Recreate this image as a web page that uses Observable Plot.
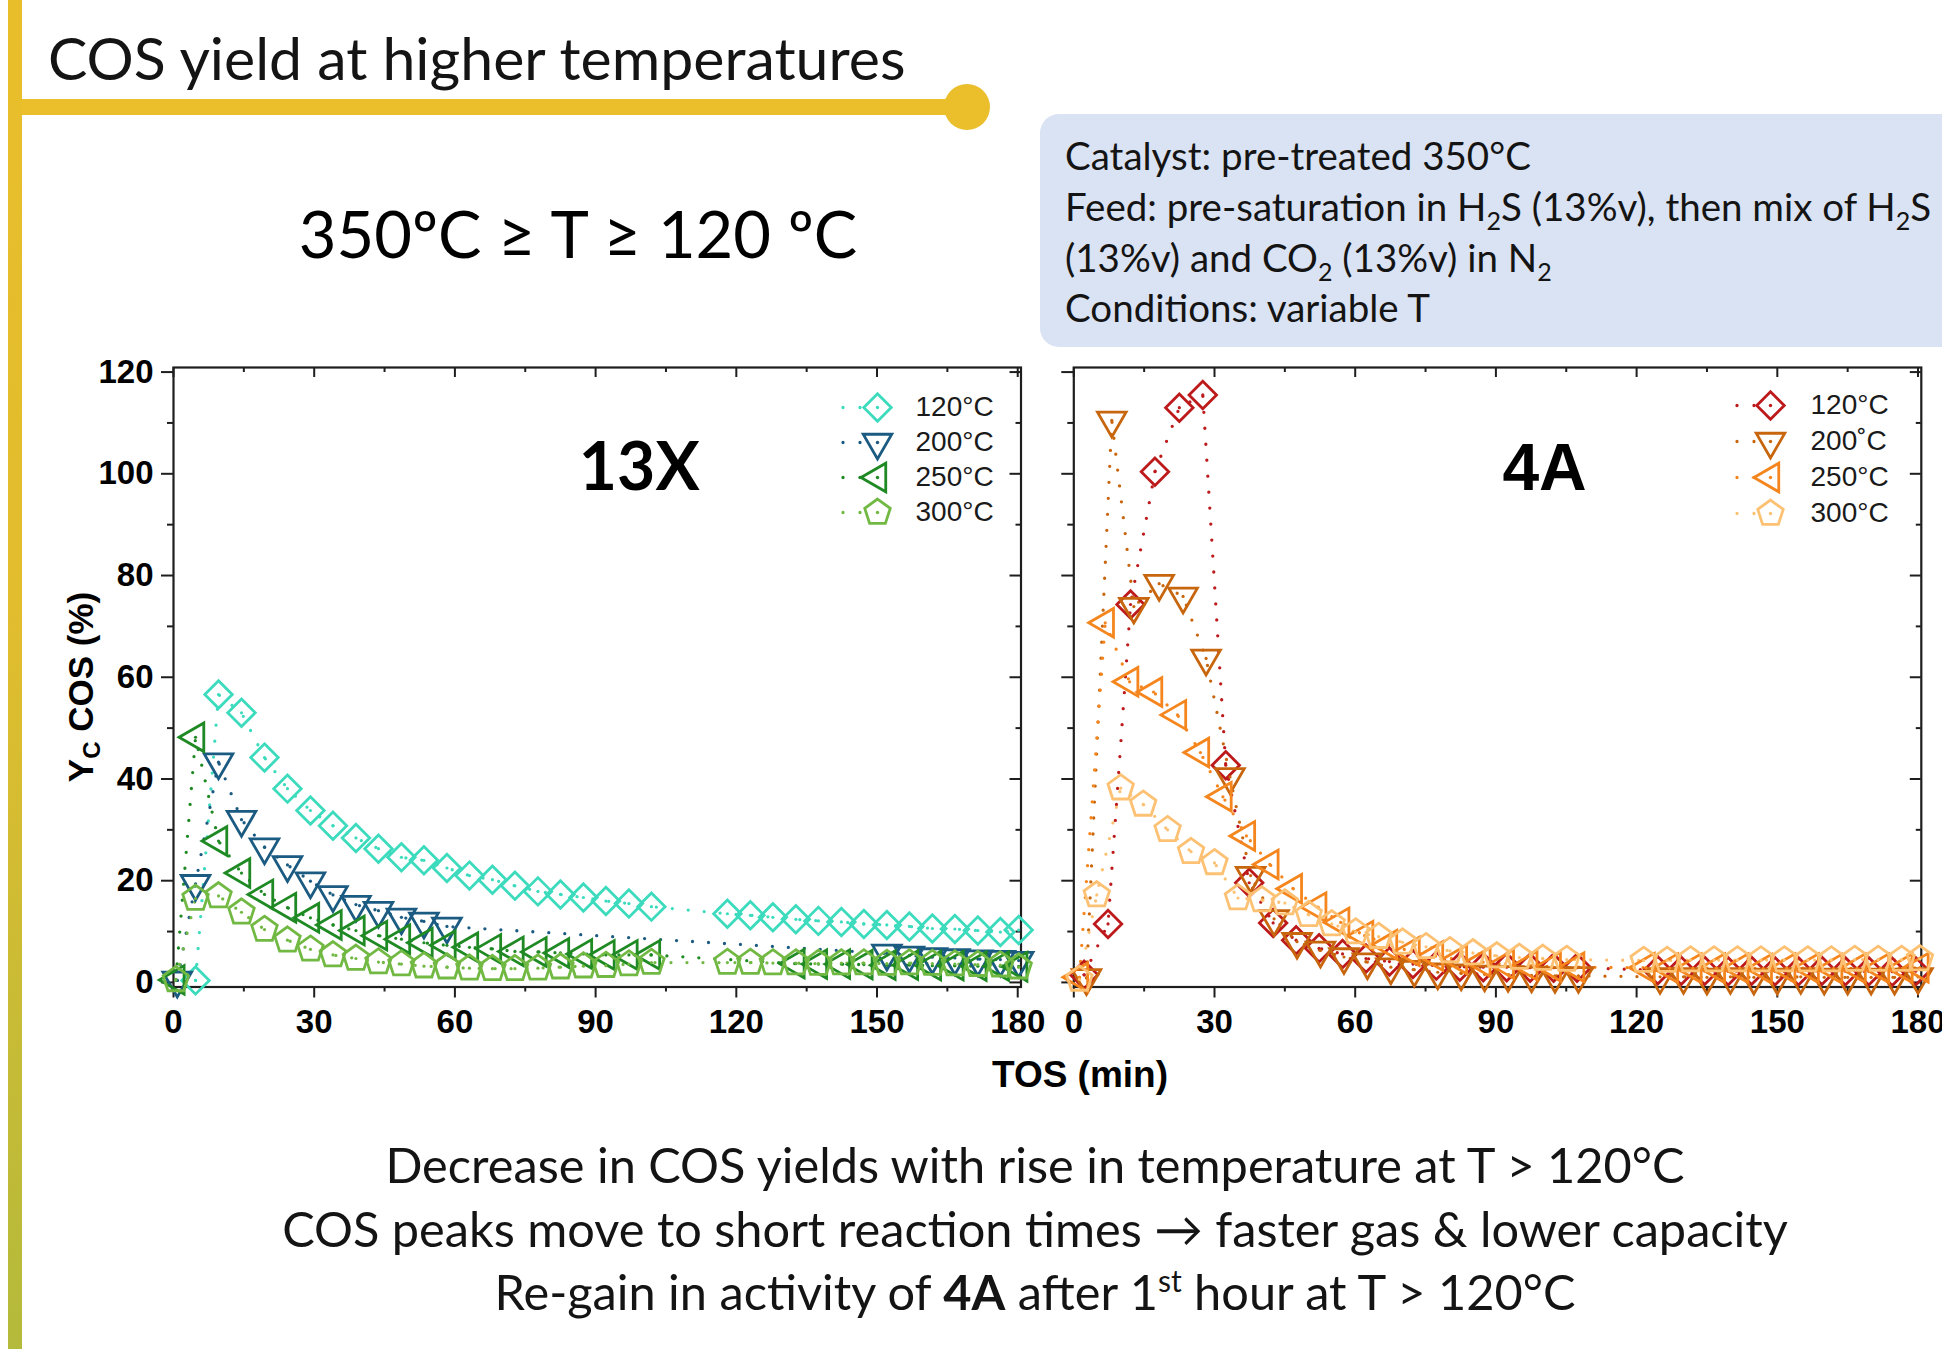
<!DOCTYPE html>
<html>
<head>
<meta charset="utf-8">
<script src="https://cdn.jsdelivr.net/npm/d3@7"></script>
<script src="https://cdn.jsdelivr.net/npm/@observablehq/plot@0.6"></script>
<style>
  html, body { margin: 0; padding: 0; background: #fff; }
  body { width: 1942px; height: 1349px; position: relative; overflow: hidden; font-family: Lato, "Open Sans", sans-serif; }
  .abs { position: absolute; }
</style>
</head>
<body>
<script>
// ---------------- DATA ----------------
const X_MAJOR = [0, 30, 60, 90, 120, 150, 180];
const X_MINOR = [15, 45, 75, 105, 135, 165];
const Y_MAJOR = [0, 20, 40, 60, 80, 100, 120];
const Y_MINOR = [10, 30, 50, 70, 90, 110];

const PANELS = ["13X", "4A"];
const LEG_13X = ["120°C", "200°C", "250°C", "300°C"];
const LEG_4A = ["120°C", "200˚C", "250°C", "300°C"];
const COL_13X = ["#3ddbbd", "#1b5b82", "#1f8a24", "#72b944"];
const COL_4A = ["#bd1a1c", "#c8660e", "#f5861e", "#fdc174"];

// 13X series (TOS in min, Yc COS in %)
const t13_120 = [4.7, 9.6, 14.5, 19.4, 24.3, 29.2, 34.0, 38.9, 43.7, 48.6, 53.4, 58.3, 63.1, 68.0, 72.8, 77.7, 82.5, 87.4, 92.2, 97.1, 101.9, 118.1, 123.0, 127.8, 132.7, 137.5, 142.4, 147.2, 152.1, 156.9, 161.8, 166.6, 171.5, 176.3, 180.2];
const y13_120 = [0.4, 56.6, 53.0, 44.2, 38.1, 33.8, 30.8, 28.4, 26.3, 24.6, 24.0, 22.5, 21.0, 20.2, 19.0, 17.9, 17.3, 16.7, 16.0, 15.5, 14.9, 13.5, 13.2, 12.8, 12.4, 12.1, 11.9, 11.5, 11.3, 11.0, 10.6, 10.5, 10.2, 9.9, 10.3];
const t13_200 = [0.8, 4.7, 9.6, 14.5, 19.4, 24.3, 29.2, 34.0, 38.9, 43.7, 48.6, 53.4, 58.3, 152.1, 156.9, 161.8, 166.6, 171.5, 176.3, 180.2];
const y13_200 = [0.4, 19.4, 43.3, 32.0, 26.6, 23.1, 19.9, 17.2, 15.3, 14.1, 12.8, 12.0, 11.0, 5.7, 5.3, 5.0, 4.8, 4.6, 4.5, 4.3];
const t13_250 = [0.5, 4.7, 9.6, 14.5, 19.4, 24.3, 29.2, 34.0, 38.9, 43.7, 48.6, 53.4, 58.3, 63.1, 68.0, 72.8, 77.7, 82.5, 87.4, 92.2, 97.1, 101.9, 132.7, 137.5, 142.4, 147.2, 152.1, 156.9, 161.8, 166.6, 171.5, 176.3, 180.2];
const y13_250 = [0.5, 48.2, 27.8, 21.5, 17.3, 14.7, 12.7, 11.3, 10.2, 9.2, 8.5, 7.8, 7.3, 6.9, 6.6, 6.1, 6.0, 5.8, 5.6, 5.4, 5.4, 5.4, 3.7, 3.6, 3.6, 3.5, 3.4, 3.4, 3.3, 3.3, 3.2, 3.2, 3.1];
const t13_300 = [0.5, 4.7, 9.6, 14.5, 19.4, 24.3, 29.2, 34.0, 38.9, 43.7, 48.6, 53.4, 58.3, 63.1, 68.0, 72.8, 77.7, 82.5, 87.4, 92.2, 97.1, 101.9, 118.1, 123.0, 127.8, 132.7, 137.5, 142.4, 147.2, 152.1, 156.9, 161.8, 166.6, 171.5, 176.3, 180.2];
const y13_300 = [0.5, 16.5, 17.0, 13.8, 10.4, 8.3, 6.5, 5.4, 4.7, 4.0, 3.6, 3.2, 3.0, 2.8, 2.7, 2.7, 2.8, 3.0, 3.2, 3.3, 3.6, 3.9, 3.9, 3.9, 3.8, 3.8, 3.7, 3.8, 3.8, 3.7, 3.8, 3.7, 3.6, 3.5, 3.4, 3.0];

// 4A series
const t4_120 = [2.2, 7.3, 12.1, 17.3, 22.5, 27.5, 32.4, 37.4, 42.5, 47.4, 52.3, 57.3, 62.3, 67.3, 72.3, 77.3, 82.3, 87.3, 92.3, 97.3, 102.3, 107.3, 124.5, 129.5, 134.5, 139.5, 144.5, 149.5, 154.5, 159.5, 164.5, 169.5, 174.5, 179.5];
const y4_120 = [1.5, 11.5, 74.3, 100.4, 113.0, 115.5, 42.7, 19.6, 11.7, 8.3, 6.7, 5.6, 4.7, 4.1, 3.6, 3.3, 3.1, 3.0, 3.0, 2.9, 2.9, 2.9, 2.4, 2.3, 2.3, 2.2, 2.3, 2.2, 2.2, 2.3, 2.2, 2.2, 2.1, 2.2];
const t4_200 = [2.7, 8.1, 12.8, 18.2, 23.3, 28.2, 33.3, 37.7, 42.7, 47.6, 52.6, 57.6, 62.6, 67.6, 72.6, 77.6, 82.6, 87.6, 92.6, 97.6, 102.6, 107.6, 125.0, 130.0, 135.0, 140.0, 145.0, 150.0, 155.0, 160.0, 165.0, 170.0, 175.0, 180.0];
const y4_200 = [0.9, 110.5, 73.9, 78.4, 75.9, 63.7, 40.4, 21.0, 12.5, 8.0, 6.3, 5.0, 4.0, 3.0, 2.5, 2.0, 1.8, 1.6, 1.5, 1.4, 1.3, 1.3, 1.1, 1.1, 1.0, 1.1, 1.0, 1.0, 1.1, 1.0, 1.0, 1.0, 1.0, 1.1];
const t4_250 = [1.2, 6.7, 11.9, 17.0, 22.1, 27.0, 31.8, 36.8, 41.8, 46.8, 52.0, 56.9, 62.0, 67.1, 71.9, 76.9, 82.0, 87.0, 92.0, 97.0, 102.0, 107.0, 122.0, 127.0, 132.0, 137.0, 142.0, 147.0, 152.0, 157.0, 162.0, 167.0, 172.0, 177.0, 180.4];
const y4_250 = [1.0, 70.7, 59.1, 57.1, 52.6, 45.2, 36.5, 28.8, 23.2, 18.4, 14.8, 11.8, 9.2, 7.4, 6.1, 5.2, 4.5, 4.0, 3.6, 3.3, 3.1, 3.0, 2.9, 2.8, 2.8, 2.8, 2.8, 2.7, 2.8, 2.8, 2.7, 2.8, 2.8, 2.8, 2.9];
const t4_300 = [1.2, 4.9, 10.0, 14.8, 20.0, 25.0, 30.0, 35.0, 40.1, 45.0, 50.1, 55.0, 60.1, 65.0, 70.1, 75.1, 80.2, 85.1, 90.2, 95.0, 100.0, 105.1, 121.5, 126.5, 131.5, 136.5, 141.5, 146.5, 151.5, 156.5, 161.5, 166.5, 171.5, 176.5, 180.4];
const y4_300 = [0.6, 17.2, 38.2, 35.0, 30.0, 25.7, 23.5, 16.6, 16.2, 15.6, 13.3, 11.5, 9.9, 9.0, 7.9, 7.0, 6.2, 5.8, 5.2, 4.9, 4.7, 4.5, 4.3, 4.3, 4.4, 4.4, 4.4, 4.4, 4.4, 4.4, 4.4, 4.5, 4.5, 4.5, 4.6];

// ---------------- SYMBOLS ----------------
const k = (size) => Math.sqrt(size / Math.PI);
const symDiamond = { draw(c, s) { const h = 1.25 * k(s); c.moveTo(0, -h); c.lineTo(h, 0); c.lineTo(0, h); c.lineTo(-h, 0); c.closePath(); } };
const symTriDown = { draw(c, s) { const w = 2.6 * k(s), h = 2.25 * k(s); c.moveTo(-w / 2, -h / 3); c.lineTo(w / 2, -h / 3); c.lineTo(0, 2 * h / 3); c.closePath(); } };
const symTriLeft = { draw(c, s) { const w = 2.6 * k(s), h = 2.25 * k(s); c.moveTo(-2 * h / 3, 0); c.lineTo(h / 3, -w / 2); c.lineTo(h / 3, w / 2); c.closePath(); } };
const symPentagon = { draw(c, s) { const R = 1.22 * k(s); for (let i = 0; i < 5; i++) { const a = -Math.PI / 2 + i * 2 * Math.PI / 5; const x = R * Math.cos(a), y = R * Math.sin(a); if (i) c.lineTo(x, y); else c.moveTo(x, y); } c.closePath(); } };
const SYMBOLS = [symDiamond, symTriDown, symTriLeft, symPentagon];

const zip = (t, y) => t.map((d, i) => ({t: d, v: y[i]}));
const S13 = [zip(t13_120, y13_120), zip(t13_200, y13_200), zip(t13_250, y13_250), zip(t13_300, y13_300)];
const S4A = [zip(t4_120, y4_120), zip(t4_200, y4_200), zip(t4_250, y4_250), zip(t4_300, y4_300)];

// ---------------- SLIDE DECORATION & TEXT ----------------
const body = d3.select("body");
const bg = body.append("svg").attr("class", "abs").attr("width", 1942).attr("height", 1349)
  .style("left", "0px").style("top", "0px");
const defs = bg.append("defs");
const grad = defs.append("linearGradient").attr("id", "vbar").attr("x1", 0).attr("y1", 0).attr("x2", 0).attr("y2", 1);
grad.append("stop").attr("offset", "0%").attr("stop-color", "#e9be2b");
grad.append("stop").attr("offset", "45%").attr("stop-color", "#e2bd2e");
grad.append("stop").attr("offset", "100%").attr("stop-color", "#b4ba3b");
bg.append("rect").attr("x", 8).attr("y", 0).attr("width", 14).attr("height", 1349).attr("fill", "url(#vbar)");
bg.append("rect").attr("x", 22).attr("y", 99).attr("width", 945).attr("height", 16).attr("fill", "#eabf2b");
bg.append("circle").attr("cx", 967).attr("cy", 107).attr("r", 23).attr("fill", "#eabf2b");

const TXT = "#141414";
bg.append("text").attr("x", 48).attr("y", 80).attr("font-family", "Lato").attr("font-size", 59).attr("fill", TXT)
  .text("COS yield at higher temperatures");
bg.append("text").attr("x", 578).attr("y", 258).attr("text-anchor", "middle").attr("font-family", "Lato").attr("font-size", 65).attr("fill", "#000")
  .text("350ºC ≥ T ≥ 120 ºC");

// info box
bg.append("rect").attr("x", 1040).attr("y", 114).attr("width", 960).attr("height", 233).attr("rx", 19).attr("fill", "#dae3f3");
const infoFs = 38.5, subFs = 25, subDy = 9;
function richLine(y, parts, opts = {}) {
  const t = bg.append("text").attr("x", opts.x ?? 1065).attr("y", y).attr("font-family", "Lato")
    .attr("font-size", opts.fs ?? infoFs).attr("fill", TXT);
  if (opts.anchor) t.attr("text-anchor", opts.anchor);
  let shift = 0;
  for (const p of parts) {
    const s = t.append("tspan").text(p.text);
    const target = p.sub ? (opts.subDy ?? subDy) : p.sup ? -(opts.supDy ?? 18) : 0;
    if (target !== shift) { s.attr("dy", target - shift); shift = target; }
    if (p.sub || p.sup) s.attr("font-size", p.fs ?? subFs);
    if (p.bold) s.attr("font-weight", "bold");
  }
  return t;
}
richLine(170, [{text: "Catalyst: pre-treated 350°C"}]);
richLine(221, [{text: "Feed: pre-saturation in H"}, {text: "2", sub: true}, {text: "S (13%v), then mix of H"}, {text: "2", sub: true}, {text: "S"}]);
richLine(272, [{text: "(13%v) and CO"}, {text: "2", sub: true}, {text: " (13%v) in N"}, {text: "2", sub: true}]);
richLine(322, [{text: "Conditions: variable T"}]);

// bottom conclusions
const bOpt = {x: 1035, anchor: "middle", fs: 48.7};
richLine(1183, [{text: "Decrease in COS yields with rise in temperature at T > 120°C"}], bOpt);
richLine(1247, [{text: "COS peaks move to short reaction times → faster gas & lower capacity"}], bOpt);
richLine(1310, [{text: "Re-gain in activity of "}, {text: "4A", bold: true}, {text: " after 1"}, {text: "st", sup: true, fs: 30}, {text: " hour at T > 120°C"}], bOpt);

// axis titles
const AXF = "'Liberation Sans', Arial, sans-serif";
bg.append("text").attr("x", 1080).attr("y", 1087).attr("text-anchor", "middle").attr("font-family", AXF)
  .attr("font-weight", "bold").attr("font-size", 37).attr("fill", "#000").text("TOS (min)");
const yl = bg.append("text").attr("transform", "translate(93,687) rotate(-90)").attr("text-anchor", "middle")
  .attr("font-family", AXF).attr("font-weight", "bold").attr("font-size", 35).attr("fill", "#000");
yl.append("tspan").text("Y");
yl.append("tspan").attr("font-size", 24).attr("dy", 7).text("C");
yl.append("tspan").attr("dy", -7).text(" COS (%)");

// ---------------- CHARTS ----------------
const AX = "#1e1e1e";
const PLOT_W = 847.5, PLOT_H = 619.5, M_TOP = 37, M_BOTTOM = 70, TOP = 330;

function makeChart({series, colors, left, marginLeft, showYLabels, panel, panelDx, panelFont}) {
  const width = marginLeft + PLOT_W + 21;
  const marks = [];
  // inward ticks on top and right
  marks.push(Plot.tickX(X_MAJOR, {x: d => d, insetBottom: PLOT_H - 10, stroke: AX, strokeWidth: 2}));
  marks.push(Plot.tickX(X_MINOR, {x: d => d, insetBottom: PLOT_H - 5, stroke: AX, strokeWidth: 2}));
  marks.push(Plot.tickY(Y_MAJOR, {y: d => d, insetLeft: PLOT_W - 11, stroke: AX, strokeWidth: 2}));
  marks.push(Plot.tickY(Y_MINOR, {y: d => d, insetLeft: PLOT_W - 5, stroke: AX, strokeWidth: 2}));
  // outward axes
  marks.push(Plot.axisX({ticks: X_MAJOR, tickSize: 11, tickPadding: 12, strokeWidth: 2, stroke: AX, fill: "#000",
    fontSize: 33, fontWeight: "bold", fontFamily: AXF, label: null, tickFormat: d => String(d)}));
  marks.push(Plot.axisX({ticks: X_MINOR, tickSize: 5, strokeWidth: 2, stroke: AX, label: null, tickFormat: () => ""}));
  marks.push(Plot.axisY({ticks: Y_MAJOR, tickSize: 12, tickPadding: 8, strokeWidth: 2, stroke: AX, fill: "#000",
    fontSize: 33, fontWeight: "bold", fontFamily: AXF, label: null, tickFormat: showYLabels ? (d => String(d)) : (() => "")}));
  marks.push(Plot.axisY({ticks: Y_MINOR, tickSize: 6, strokeWidth: 2, stroke: AX, label: null, tickFormat: () => ""}));
  marks.push(Plot.frame({stroke: AX, strokeWidth: 2.2}));
  // dotted connecting lines
  series.forEach((data, i) => {
    marks.push(Plot.line(data, {x: "t", y: "v", stroke: colors[i], strokeWidth: 3.3, strokeDasharray: "0 16", strokeLinecap: "round"}));
  });
  // open markers with centre dot
  series.forEach((data, i) => {
    marks.push(Plot.dot(data, {x: "t", y: "v", symbol: SYMBOLS[i], r: 11, stroke: colors[i], strokeWidth: 2.8, fill: "none"}));
    marks.push(Plot.dot(data, {x: "t", y: "v", r: 1.6, fill: colors[i], stroke: "none"}));
  });
  // panel label
  marks.push(Plot.text([panel], {text: d => d, frameAnchor: "top", lineAnchor: "middle", dx: panelDx, dy: 101,
    fontSize: 66, fontWeight: "bold", fontFamily: panelFont, fill: "#000"}));

  const svg = Plot.plot({
    width, height: M_TOP + PLOT_H + M_BOTTOM,
    marginLeft, marginRight: 21, marginTop: M_TOP, marginBottom: M_BOTTOM,
    x: {domain: [0, 180.7]},
    y: {domain: [-0.9, 120.9]},
    style: {background: "transparent", overflow: "visible"},
    marks
  });
  svg.setAttribute("class", "abs");
  svg.style.left = left + "px";
  svg.style.top = TOP + "px";
  svg.style.overflow = "visible";
  document.body.appendChild(svg);
}

makeChart({series: S13, colors: COL_13X, left: 0, marginLeft: 173, showYLabels: true, panel: PANELS[0], panelDx: 42, panelFont: "Lato"});
makeChart({series: S4A, colors: COL_4A, left: 1041, marginLeft: 32.3, showYLabels: false, panel: PANELS[1], panelDx: 47, panelFont: AXF});

// ---------------- LEGENDS ----------------
function makeLegend({labels, colors, left, top, range, mx, lineL, lineR, tx}) {
  const width = 200, height = 160;
  const marks = [];
  labels.forEach((lab, i) => {
    marks.push(Plot.ruleY([lab], {y: d => d, insetLeft: lineL, insetRight: width - lineR, stroke: colors[i], strokeWidth: 3.3, strokeDasharray: "0 17", strokeLinecap: "round"}));
    marks.push(Plot.dot([lab], {y: d => d, frameAnchor: "left", dx: mx, symbol: SYMBOLS[i], r: 11, stroke: colors[i], strokeWidth: 2.8, fill: "white"}));
    marks.push(Plot.dot([lab], {y: d => d, frameAnchor: "left", dx: mx, r: 1.7, fill: colors[i], stroke: "none"}));
  });
  marks.push(Plot.text(labels, {y: d => d, text: d => d, frameAnchor: "left", dx: tx, textAnchor: "start", fontSize: 28, fontFamily: AXF, fill: "#1a1a1a"}));
  const svg = Plot.plot({
    width, height, margin: 0,
    y: {type: "point", domain: labels, range, padding: 0, axis: null},
    style: {background: "transparent", overflow: "visible"},
    marks
  });
  svg.setAttribute("class", "abs");
  svg.style.left = left + "px";
  svg.style.top = top + "px";
  svg.style.overflow = "visible";
  document.body.appendChild(svg);
}
makeLegend({labels: LEG_13X, colors: COL_13X, left: 830, top: 380, range: [27, 132], mx: 47, lineL: 13, lineR: 64, tx: 85});
makeLegend({labels: LEG_4A, colors: COL_4A, left: 1720, top: 380, range: [24, 133.5], mx: 50, lineL: 17, lineR: 67, tx: 90});
</script>
</body>
</html>
